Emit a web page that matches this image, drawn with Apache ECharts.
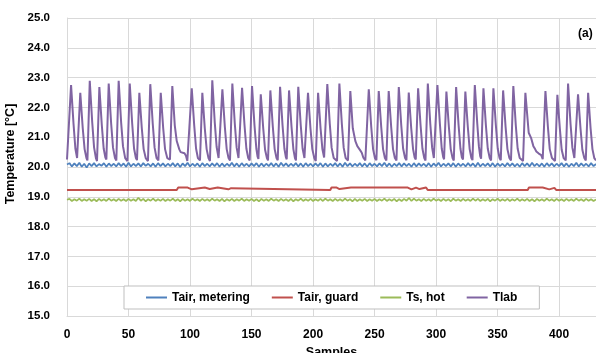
<!DOCTYPE html>
<html>
<head>
<meta charset="utf-8">
<script src="https://cdn.jsdelivr.net/npm/echarts@6/dist/echarts.min.js"></script>
<style>
html,body{margin:0;padding:0;background:#fff;}
#chart{width:596px;height:353px;}
</style>
</head>
<body>
<div id="chart"></div>
<script>
// ---------- data ----------
var seriesNames = ['Tair, metering', 'Tair, guard', 'Ts, hot', 'Tlab'];
var xTicks = [0, 50, 100, 150, 200, 250, 300, 350, 400];
var yTicks = [15, 16, 17, 18, 19, 20, 21, 22, 23, 24, 25];

// Tair, metering: value every 2 samples (x = 0,2,4,...,430)
var SAMPLE_STEP = 2;
var tairMetering = [
20.08,20.13,20.02,20.12,20.03,20.14,20.01,20.11,19.98,20.12,20.03,20.13,20.02,20.10,20.04,20.13,20.01,20.12,20.03,20.11,
20.02,20.13,20.03,20.12,20.01,20.14,20.02,20.11,20.03,20.12,20.02,20.13,20.04,20.11,20.02,20.12,20.01,20.13,20.03,20.12,
20.02,20.11,20.03,20.13,20.02,20.12,20.00,20.12,20.03,20.14,20.02,20.11,20.03,20.12,20.01,20.13,20.03,20.11,20.02,20.12,
20.03,20.13,20.01,20.12,20.02,20.11,20.03,20.14,20.02,20.12,20.01,20.13,20.03,20.11,20.02,20.12,20.03,20.13,20.01,20.12,
20.02,20.11,20.03,20.13,20.02,20.12,20.01,20.14,20.03,20.12,20.02,20.11,20.03,20.13,20.02,20.12,20.01,20.13,20.03,20.11,
20.02,20.12,20.03,20.13,20.01,20.12,20.02,20.11,20.03,20.13,20.02,20.12,20.01,20.14,20.03,20.12,20.02,20.11,20.03,20.13,
20.02,20.12,20.01,20.13,20.03,20.11,20.02,20.12,20.03,20.14,20.02,20.12,20.01,20.11,20.03,20.13,20.02,20.12,20.03,20.11,
20.01,20.13,20.02,20.12,20.03,20.11,20.02,20.13,20.01,20.12,20.03,20.14,20.02,20.11,20.03,20.12,20.02,20.13,20.01,20.12,
20.03,20.11,20.02,20.13,20.03,20.12,20.01,20.14,20.02,20.11,20.03,20.12,20.02,20.13,20.01,20.12,20.03,20.11,20.02,20.13,
20.03,20.12,20.02,20.11,20.01,20.13,20.03,20.12,20.02,20.14,20.03,20.11,20.02,20.12,20.01,20.13,20.03,20.12,20.02,20.11,
20.03,20.13,20.02,20.12,20.01,20.11,20.03,20.14,20.02,20.12,20.03,20.11,20.02,20.13,20.03,20.10
];

// Ts, hot: value every 2 samples
var tsHot = [
18.90,18.93,18.86,18.92,18.87,18.94,18.86,18.92,18.87,18.93,18.86,18.92,18.85,18.93,18.87,18.92,18.86,18.94,18.87,18.92,
18.86,18.93,18.87,18.92,18.86,18.93,18.87,18.92,18.86,18.97,18.87,18.93,18.85,18.92,18.87,18.94,18.86,18.92,18.87,18.93,
18.86,18.92,18.87,18.94,18.86,18.92,18.85,18.93,18.87,18.92,18.86,18.94,18.87,18.92,18.86,18.93,18.87,18.92,18.86,18.94,
18.87,18.92,18.86,18.93,18.85,18.92,18.87,18.93,18.86,18.92,18.87,18.94,18.86,18.92,18.87,18.93,18.86,18.92,18.85,18.93,
18.87,18.92,18.86,18.94,18.87,18.92,18.86,18.93,18.87,18.92,18.86,18.93,18.85,18.92,18.87,18.94,18.86,18.92,18.87,18.93,
18.86,18.92,18.87,18.93,18.86,18.94,18.87,18.92,18.86,18.93,18.87,18.92,18.86,18.94,18.87,18.92,18.85,18.93,18.86,18.92,
18.87,18.93,18.86,18.92,18.87,18.93,18.86,18.92,18.87,18.94,18.86,18.92,18.87,18.93,18.85,18.92,18.86,18.93,18.87,18.96,
18.86,18.94,18.87,18.92,18.86,18.93,18.87,18.92,18.86,18.94,18.87,18.92,18.86,18.93,18.87,18.92,18.85,18.94,18.87,18.92,
18.86,18.93,18.87,18.92,18.86,18.94,18.87,18.93,18.86,18.92,18.87,18.93,18.85,18.92,18.87,18.94,18.86,18.92,18.87,18.93,
18.86,18.92,18.87,18.94,18.86,18.92,18.87,18.93,18.86,18.92,18.85,18.93,18.87,18.92,18.86,18.94,18.87,18.92,18.86,18.93,
18.87,18.92,18.86,18.93,18.87,18.92,18.86,18.94,18.87,18.92,18.86,18.93,18.87,18.92,18.86,18.91
];

// Tair, guard: [sample, value] break points
var tairGuard = [
[0,19.23],[89.2,19.23],[90.4,19.31],[98.1,19.31],[99.3,19.25],[101.4,19.25],[102.7,19.31],[112,19.31],
[113.3,19.26],[116,19.26],[117.3,19.31],[122.5,19.31],[123.8,19.25],[131.2,19.25],[132.2,19.29],[133.4,19.29],
[134.6,19.23],[214,19.23],[215,19.31],[219.2,19.31],[220.2,19.26],[221.5,19.26],[222.5,19.31],[230.8,19.31],
[231.5,19.27],[232.2,19.31],[277,19.31],[278.3,19.25],[280,19.25],[281,19.31],[283.7,19.31],[285,19.26],
[286.5,19.26],[287.8,19.31],[291.9,19.31],[293.2,19.23],[374.5,19.23],[375.5,19.31],[386.7,19.31],[388,19.25],
[392,19.25],[393.5,19.30],[396.2,19.30],[397.6,19.23],[430,19.23]
];

// Tlab: [sample, value] points (troughs, peaks, decay)
var tlab = [
[0,20.25],[1.4,20.2],
[3.3,22.75],[5.3,21.45],[6.8,20.62],[8.2,20.3],[8.9,20.24],
[10.8,22.49],[12.8,21.3],[14.3,20.6],[15.8,20.3],[16.6,20.22],
[18.5,22.89],[20.5,21.5],[22,20.66],[23.5,20.3],[24.4,20.2],
[26.3,22.68],[28.3,21.4],[29.8,20.62],[31.2,20.32],[32,20.25],
[33.9,22.80],[35.9,21.45],[37.4,20.65],[39,20.3],[40.1,20.22],
[42.0,22.89],[44,21.5],[45.5,20.7],[47.3,20.3],[49.1,20.2],
[51.0,22.80],[53,21.45],[54.5,20.62],[56,20.3],[56.9,20.23],
[58.8,22.49],[60.8,21.3],[62.3,20.6],[64,20.3],[65.8,20.2],
[67.7,22.78],[69.7,21.45],[71.2,20.65],[72.8,20.3],[74.3,20.22],
[76.2,22.49],[78.2,21.3],[79.7,20.6],[81.5,20.3],[83.7,20.25],
[85.6,22.72],[87.6,21.4],[89.2,20.87],[91.3,20.59],[92.4,20.5],[94,20.45],[95.5,20.46],[96.7,20.38],[97.8,20.2],[98.8,20.14],
[101.4,22.64],[103.4,21.4],[104.9,20.62],[106.4,20.3],[108.1,20.22],
[110.0,22.49],[112,21.3],[113.5,20.6],[115,20.3],[116.2,20.2],
[118.1,22.91],[120.1,21.5],[121.6,20.68],[123.2,20.3],[124.4,20.24],
[126.3,22.61],[128.3,21.35],[129.8,20.6],[131.3,20.3],[132.5,20.22],
[134.4,22.80],[136.4,21.45],[137.9,20.65],[139.4,20.3],[140.4,20.24],
[142.3,22.66],[144.3,21.4],[145.8,20.62],[147.3,20.3],[148.5,20.22],
[150.4,22.72],[152.4,21.4],[153.9,20.62],[154.9,20.35],[155.6,20.27],
[157.5,22.44],[159.5,21.3],[161,20.58],[162.5,20.3],[163.4,20.22],
[165.3,22.57],[167.3,21.35],[168.8,20.6],[170.3,20.3],[171.3,20.23],
[173.2,22.69],[175.2,21.4],[176.7,20.62],[177.9,20.33],[178.6,20.26],
[180.5,22.57],[182.5,21.35],[184,20.6],[185.3,20.3],[186.1,20.22],
[188.0,22.69],[190,21.4],[191.5,20.62],[193,20.3],[194,20.24],
[195.9,22.49],[197.9,21.3],[199.4,20.6],[201,20.3],[202.2,20.2],
[204.1,22.49],[206.1,21.3],[207.6,20.6],[209,20.32],[209.7,20.26],
[211.6,22.78],[213.6,21.45],[215.1,20.65],[216.8,20.3],[219.5,20.2],
[221.4,22.80],[223.4,21.45],[224.9,20.65],[226.5,20.3],[228.4,20.22],
[230.3,22.55],[232.3,21.3],[234.4,20.87],[236,20.7],[237.1,20.65],[238.5,20.55],[239.6,20.48],[240.9,20.31],[242.5,20.22],[243.4,20.18],
[245.3,22.61],[247.3,21.35],[248.8,20.6],[250.3,20.3],[251.5,20.23],
[253.4,22.55],[255.4,21.35],[256.9,20.6],[258.4,20.3],[259.6,20.22],
[261.5,22.55],[263.5,21.35],[265,20.6],[266.5,20.3],[267.8,20.22],
[269.7,22.68],[271.7,21.4],[273.2,20.62],[274.8,20.3],[275.9,20.23],
[277.8,22.50],[279.8,21.3],[281.3,20.6],[282.6,20.32],[283.5,20.25],
[285.4,22.64],[287.4,21.4],[288.9,20.62],[290.4,20.3],[291.4,20.22],
[293.3,22.80],[295.3,21.45],[296.8,20.65],[298.2,20.3],[299.2,20.24],
[301.1,22.75],[303.1,21.45],[304.6,20.62],[305.8,20.33],[306.5,20.26],
[308.4,22.53],[310.4,21.35],[311.9,20.6],[313.4,20.3],[314.4,20.22],
[316.3,22.68],[318.3,21.4],[319.8,20.62],[321,20.32],[321.9,20.25],
[323.8,22.53],[325.8,21.35],[327.3,20.6],[328.7,20.3],[329.6,20.23],
[331.5,22.75],[333.5,21.45],[334.8,20.7],[335.9,20.36],[336.6,20.28],
[338.5,22.64],[340.5,21.4],[342,20.62],[343.6,20.3],[344.7,20.22],
[346.6,22.64],[348.6,21.4],[350.1,20.62],[351.6,20.3],[352.6,20.23],
[354.5,22.57],[356.5,21.35],[358,20.6],[359.6,20.3],[360.9,20.22],
[362.8,22.72],[364.8,21.4],[366.3,20.62],[368,20.3],[370.7,20.2],
[372.6,22.49],[375.3,21.15],[377.2,20.98],[379.1,20.7],[380.5,20.6],[381.5,20.52],[382.5,20.58],[383.5,20.45],[384.5,20.5],[385.5,20.4],[386.7,20.26],[387.2,20.24],
[388.9,22.55],[390.9,21.35],[392.4,20.6],[394.2,20.3],[396.7,20.2],
[398.6,22.42],[400.6,21.3],[402.1,20.58],[403.7,20.3],[405.4,20.22],
[407.3,22.80],[409.3,21.45],[410.8,20.65],[412.4,20.3],[413.5,20.24],
[415.4,22.44],[417.4,21.3],[418.9,20.58],[420.5,20.3],[421.7,20.22],
[423.6,22.49],[425.6,21.3],[427.1,20.6],[428.6,20.3],[430,20.22]
];

// ---------- chart ----------
var FONT = '"Liberation Sans", Arial, sans-serif';
function stepPairs(arr) { return arr.map(function (v, i) { return [i * SAMPLE_STEP, v]; }); }

var chart = echarts.init(document.getElementById('chart'), null, { renderer: 'canvas' });
var gridColor = '#d9d9d9';
chart.setOption({
  animation: false,
  backgroundColor: '#fff',
  textStyle: { fontFamily: FONT },
  grid: { left: 67, right: 0, top: 18, bottom: 37, containLabel: false, outerBoundsMode: 'none' },
  xAxis: {
    type: 'value', min: xTicks[0], max: 430, interval: 50,
    name: 'Samples', nameLocation: 'middle', nameGap: 27,
    nameTextStyle: { fontFamily: FONT, fontWeight: 'bold', fontSize: 12.5, color: '#000' },
    axisLine: { show: true, lineStyle: { color: gridColor, width: 1 } },
    axisTick: { show: false },
    axisLabel: { fontFamily: FONT, fontWeight: 'bold', fontSize: 12, color: '#000', margin: 13, showMaxLabel: false },
    splitLine: { show: true, lineStyle: { color: gridColor, width: 1 } }
  },
  yAxis: {
    type: 'value', min: yTicks[0], max: yTicks[yTicks.length - 1], interval: 1,
    name: 'Temperature [°C]', nameLocation: 'middle', nameGap: 44,
    nameTextStyle: { fontFamily: FONT, fontWeight: 'bold', fontSize: 12.5, color: '#000', padding: [0, 0, 0, 26] },
    axisLine: { show: true, lineStyle: { color: gridColor, width: 1 } },
    axisTick: { show: false },
    axisLabel: { fontFamily: FONT, fontWeight: 'bold', fontSize: 11.5, color: '#000', margin: 17,
      formatter: function (v) { return v.toFixed(1); } },
    splitLine: { show: true, lineStyle: { color: gridColor, width: 1 } }
  },
  legend: {
    data: seriesNames,
    left: 124, top: 286,
    padding: [5, 22, 5, 22],
    icon: 'rect',
    itemGap: 22, itemWidth: 21, itemHeight: 2,
    borderColor: '#bfbfbf', borderWidth: 1, backgroundColor: '#fff',
    textStyle: { fontFamily: FONT, fontWeight: 'bold', fontSize: 12, color: '#000', lineHeight: 13 }
  },
  graphic: [{
    type: 'text', left: 578, top: 28,
    style: { text: '(a)', fontFamily: FONT, fontWeight: 'bold', fontSize: 12, fill: '#000' }
  }],
  series: [
    { name: seriesNames[0], type: 'line', data: stepPairs(tairMetering), symbol: 'none', showSymbol: false,
      lineStyle: { color: '#4F81BD', width: 1.75 }, itemStyle: { color: '#4F81BD' } },
    { name: seriesNames[1], type: 'line', data: tairGuard, symbol: 'none', showSymbol: false,
      lineStyle: { color: '#C0504D', width: 2 }, itemStyle: { color: '#C0504D' } },
    { name: seriesNames[2], type: 'line', data: stepPairs(tsHot), symbol: 'none', showSymbol: false,
      lineStyle: { color: '#9BBB59', width: 1.75 }, itemStyle: { color: '#9BBB59' } },
    { name: seriesNames[3], type: 'line', data: tlab, symbol: 'none', showSymbol: false,
      lineStyle: { color: '#8064A2', width: 2 }, itemStyle: { color: '#8064A2' } }
  ]
});
</script>
</body>
</html>
